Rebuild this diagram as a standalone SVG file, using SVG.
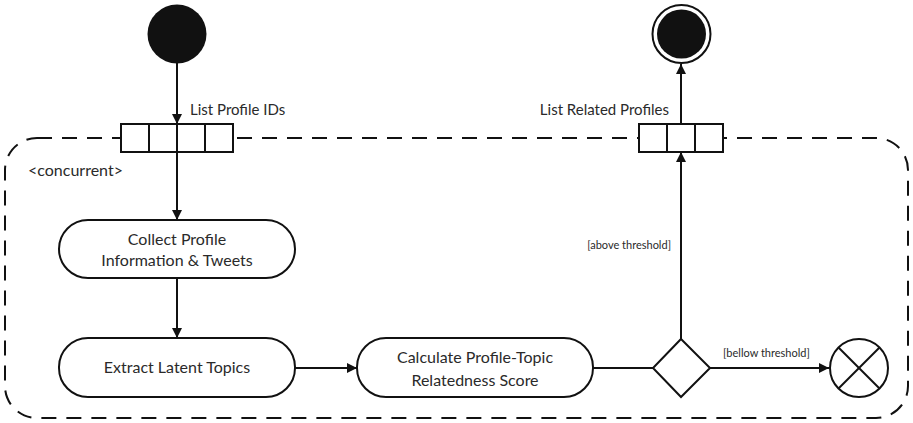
<svg xmlns="http://www.w3.org/2000/svg" width="913" height="423" viewBox="0 0 913 423">
  <style>
    .ln { fill: none; stroke: #111; stroke-width: 2; }
    .box { fill: #fff; stroke: #111; stroke-width: 2; }
    .t { font-family: Lato, "Noto Sans", sans-serif; font-weight: 400; fill: #2a2a2a; }
    .lbl { font-size: 16px; text-anchor: middle; }
    .pin { font-size: 15px; }
    .grd { font-size: 11px; }
  </style>
  <defs>
    <marker id="arr" viewBox="0 0 10 10" refX="10" refY="5" markerWidth="10" markerHeight="10" markerUnits="userSpaceOnUse" orient="auto">
      <path d="M0,0 L10,5 L0,10 Z" fill="#111"/>
    </marker>
  </defs>

  <!-- interruptible / concurrent region -->
  <g id="region">
    <rect x="5" y="138" width="903" height="280" rx="32" ry="32" fill="none" stroke="#111" stroke-width="2" stroke-dasharray="15 10"/>
    <text class="t" font-size="16" x="28" y="176">&lt;concurrent&gt;</text>
  </g>

  <!-- connectors -->
  <g id="connectors">
    <line class="ln" x1="177" y1="63" x2="177" y2="124" marker-end="url(#arr)"/>
    <line class="ln" x1="177" y1="152" x2="177" y2="220" marker-end="url(#arr)"/>
    <line class="ln" x1="177" y1="278" x2="177" y2="338" marker-end="url(#arr)"/>
    <line class="ln" x1="295" y1="368" x2="357" y2="368" marker-end="url(#arr)"/>
    <line class="ln" x1="593" y1="368" x2="653" y2="368"/>
    <line class="ln" x1="681" y1="339" x2="681" y2="152" marker-end="url(#arr)"/>
    <line class="ln" x1="710" y1="368" x2="829" y2="368" marker-end="url(#arr)"/>
    <line class="ln" x1="681" y1="124" x2="681" y2="64" marker-end="url(#arr)"/>
    <text class="t grd" x="671" y="249" text-anchor="end">[above threshold]</text>
    <text class="t grd" x="723" y="357">[bellow threshold]</text>
  </g>

  <g id="start">
    <circle cx="177" cy="34" r="29.5" fill="#111"/>
  </g>

  <g id="input-pin">
    <rect class="box" x="121" y="124" width="112" height="28"/>
    <line class="ln" x1="149" y1="124" x2="149" y2="152"/>
    <line class="ln" x1="177" y1="124" x2="177" y2="152"/>
    <line class="ln" x1="205" y1="124" x2="205" y2="152"/>
    <text class="t pin" x="190" y="115">List Profile IDs</text>
  </g>

  <g id="collect">
    <rect class="box" x="59" y="220" width="236" height="58" rx="29" ry="29"/>
    <text class="t lbl" x="177" y="245">Collect Profile</text>
    <text class="t lbl" x="177" y="266">Information &amp; Tweets</text>
  </g>

  <g id="extract">
    <rect class="box" x="59" y="338" width="236" height="59" rx="29" ry="29"/>
    <text class="t lbl" x="177" y="373">Extract Latent Topics</text>
  </g>

  <g id="calculate">
    <rect class="box" x="357" y="338" width="236" height="59" rx="29" ry="29"/>
    <text class="t lbl" x="475" y="363">Calculate Profile-Topic</text>
    <text class="t lbl" x="475" y="386">Relatedness Score</text>
  </g>

  <g id="decision">
    <polygon class="box" points="681,339 710,368 681,397 653,368"/>
  </g>

  <g id="flow-final">
    <circle class="box" cx="859" cy="368" r="29"/>
    <line class="ln" x1="838.5" y1="347.5" x2="879.5" y2="388.5"/>
    <line class="ln" x1="879.5" y1="347.5" x2="838.5" y2="388.5"/>
  </g>

  <g id="output-pin">
    <rect class="box" x="639" y="124" width="84" height="28"/>
    <line class="ln" x1="667" y1="124" x2="667" y2="152"/>
    <line class="ln" x1="695" y1="124" x2="695" y2="152"/>
    <text class="t pin" x="669" y="115" text-anchor="end">List Related Profiles</text>
  </g>

  <g id="end">
    <circle cx="681.5" cy="34" r="29" fill="#fff" stroke="#111" stroke-width="2"/>
    <circle cx="681.5" cy="34" r="24.5" fill="#111"/>
  </g>
</svg>
